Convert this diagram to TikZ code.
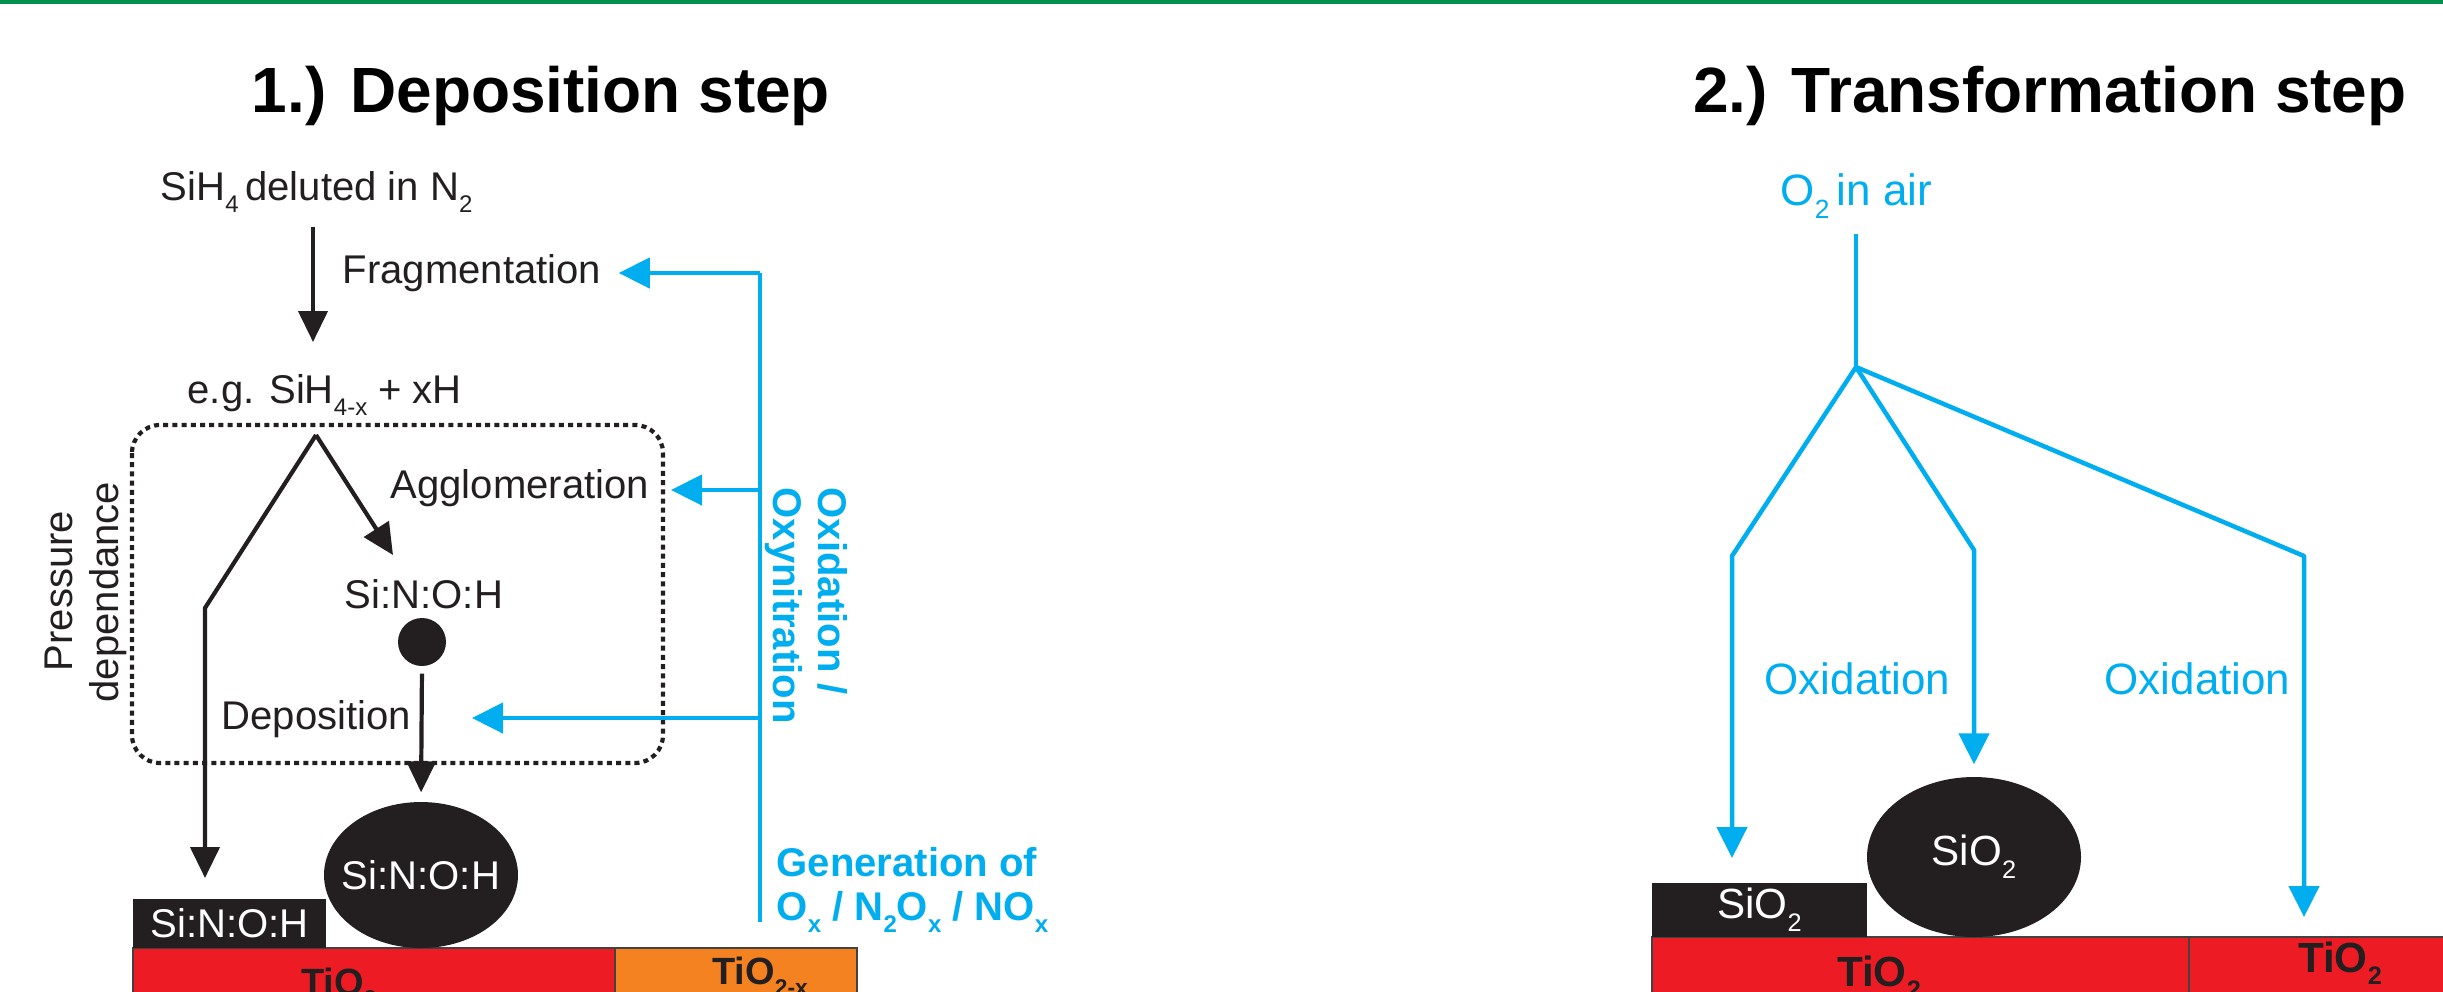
\documentclass[tikz,border=0pt]{standalone}
\usepackage{fontspec}
\usepackage{graphicx}
\setmainfont{Liberation Sans}
\usetikzlibrary{
  shapes.geometric,
  arrows.meta,
  positioning,
  calc
}
\definecolor{ProcBlue}{HTML}{00AEEF}
\definecolor{InkBlack}{HTML}{231F20}
\definecolor{TiRed}{HTML}{ED1C24}
\definecolor{TiOrange}{HTML}{F58220}
\definecolor{RuleGreen}{HTML}{00904C}
\newcommand{\sbs}[1]{\raisebox{-0.3em}{\scalebox{0.6}{#1}}}
\tikzset{
  % Plain text label
  lbl/.style={font=\fontsize{11.4}{13.7}\selectfont, text=InkBlack,
    inner sep=0pt, anchor=base west},
  % Blue bold label
  blbl/.style={lbl, font=\fontsize{11.4}{13.7}\selectfont\bfseries, text=ProcBlue},
  % Blue label, second step
  olbl/.style={lbl, font=\fontsize{12.5}{15}\selectfont, text=ProcBlue},
  % Step title
  ttl/.style={font=\fontsize{18.2}{22}\selectfont\bfseries, text=black,
    inner sep=0pt, anchor=base},
  % Substrate label
  tlbl/.style={font=\fontsize{#1}{14}\selectfont\bfseries, text=InkBlack,
    inner sep=0pt, anchor=base},
  % Film on the substrate
  film/.style={rectangle, fill=InkBlack, text=white, inner sep=0pt,
    font=\fontsize{#1}{14}\selectfont},
  % Grain on the substrate
  grain/.style={ellipse, fill=InkBlack, inner sep=0pt},
  % White text on a grain
  wlbl/.style={text=white, inner sep=0pt, font=\fontsize{#1}{14}\selectfont},
  % Small cluster
  cluster/.style={circle, fill=InkBlack, minimum size=4.8mm, inner sep=0pt},
  % Substrate bar
  substrate/.style={fill=#1, draw=InkBlack!85, line width=0.12mm},
  % Arrows
  arr/.style={-{Triangle[length=3.1mm,width=2.9mm]}, line width=0.42mm, color=InkBlack},
  barr/.style={-{Triangle[length=3.1mm,width=3mm]}, line width=0.45mm, color=ProcBlue},
  bline/.style={line width=0.45mm, color=ProcBlue},
  % Dotted pressure box
  pdbox/.style={draw=InkBlack, line width=0.42mm, rounded corners=2.8mm,
    dash pattern=on 0.5mm off 0.42mm}
}
\begin{document}
\begin{tikzpicture}[x=0.1mm, y=-0.1mm]
  \useasboundingbox (0,0) rectangle (2443,991);
  \clip (0,0) rectangle (2443,991);
  \fill[RuleGreen] (0,0) rectangle (2443,3.5);

  % 1.) Deposition step
  \node[ttl] (deptitle) at (541,112) {1.) Deposition step};
  \node[lbl] (sih4) at (160,200) {SiH\sbs{4}\,deluted in N\sbs{2}};
  \node[lbl] (frag) at (342,283) {Fragmentation};
  \node[lbl] (frgmt) at (187,403) {e.g. SiH\sbs{4-x} + xH};
  \node[lbl] (agglo) at (390,498) {Agglomeration};
  \node[lbl, anchor=base] (sinoh) at (424,608) {Si:N:O:H};
  \node[cluster] (clst) at (422,642) {};
  \node[lbl] (depo) at (221,729) {Deposition};
  \node[lbl, rotate=90, anchor=base] (press) at (72,591) {Pressure};
  \node[lbl, rotate=90, anchor=base] (depend) at (118,592) {dependance};
  \node[blbl, rotate=-90] (oxid) at (818,487) {Oxidation /};
  \node[blbl, rotate=-90] (oxyn) at (773,487) {Oxynitration};
  \node[blbl] (gen) at (776,876) {Generation of};
  \node[blbl] (genox) at (776,920) {O\sbs{x} / N\sbs{2}O\sbs{x} / NO\sbs{x}};

  \draw[pdbox] (132,425) rectangle (663,763);

  \coordinate (fragtop) at (313,227);
  \coordinate (fragtip) at (313,342);
  \coordinate (apex)    at (316,435);
  \coordinate (aggtip)  at (393,555);
  \coordinate (bend)    at (205,608);
  \coordinate (filmtip) at (205,878);
  \draw[arr] (fragtop) -- (fragtip);
  \draw[arr] (apex) -- (aggtip);
  \draw[arr, line join=round] (apex) -- (bend) -- (filmtip);

  % substrate, film and grain
  \filldraw[substrate=TiRed]    (133,948) rectangle (615,1012);
  \filldraw[substrate=TiOrange] (615,948) rectangle (857,1012);
  \node[film=11.4, minimum width=19.3mm, minimum height=4.9mm] (sinohfilm) at (229.5,923.5) {Si:N:O:H};
  \node[grain, minimum width=19.4mm, minimum height=14.6mm] (sinohgrain) at (421,875) {};
  \node[wlbl=11.4] (sinohtxt) at (sinohgrain) {Si:N:O:H};
  \node[tlbl=10.8] (tio2a) at (339,995) {TiO\sbs{2}};
  \node[tlbl=10.8] (tio2x) at (760,984) {TiO\sbs{2-x}};

  \draw[arr, shorten <=0.7mm, shorten >=0.9mm] (clst.south) -- (sinohgrain.north);

  % oxygen species feed
  \coordinate (feedtop) at (760,273);
  \coordinate (feedagg) at (760,490);
  \coordinate (feeddep) at (760,718);
  \coordinate (feedbot) at (760,922);
  \coordinate (agglotip) at (671,490);
  \coordinate (depotip)  at (472,718);
  \draw[bline] (feedtop) -- (feedbot);
  \draw[barr] (feedtop) -- ([xshift=1.7mm]frag.east |- feedtop);
  \draw[barr] (feedagg) -- (agglotip);
  \draw[barr] (feeddep) -- (depotip);

  % 2.) Transformation step
  \node[ttl] (trftitle) at (2050,112) {2.) Transformation step};
  \node[olbl] (o2air) at (1780,205) {O\sbs{2}\,in air};
  \node[olbl] (oxla) at (1764,694) {Oxidation};
  \node[olbl] (oxlb) at (2104,694) {Oxidation};

  \filldraw[substrate=TiRed] (1652,937) rectangle (2189,1012);
  \filldraw[substrate=TiRed] (2189,937) rectangle (2460,1012);
  \node[film=12, minimum width=21.5mm, minimum height=5.4mm] (sio2film) at (1759.5,910) {SiO\sbs{2}};
  \node[grain, minimum width=21.4mm, minimum height=16mm] (sio2grain) at (1974,857) {};
  \node[wlbl=12] (sio2txt) at (sio2grain) {SiO\sbs{2}};
  \node[tlbl=12] (tio2b) at (1879,986) {TiO\sbs{2}};
  \node[tlbl=12] (tio2c) at (2340,972) {TiO\sbs{2}};

  \coordinate (o2top) at (1856,234);
  \coordinate (split) at (1856,367);
  \coordinate (lkink) at (1732,556);
  \coordinate (ltip)  at (1732,858);
  \coordinate (mkink) at (1974,550);
  \coordinate (rkink) at (2304,556);
  \coordinate (rtip)  at (2304,917);
  \draw[bline] (o2top) -- (split);
  \draw[barr, line join=round] (split) -- (lkink) -- (ltip);
  \draw[barr, line join=round, shorten >=1.2mm] (split) -- (mkink) -- (sio2grain.north);
  \draw[barr, line join=round] (split) -- (rkink) -- (rtip);
\end{tikzpicture}
\end{document}
